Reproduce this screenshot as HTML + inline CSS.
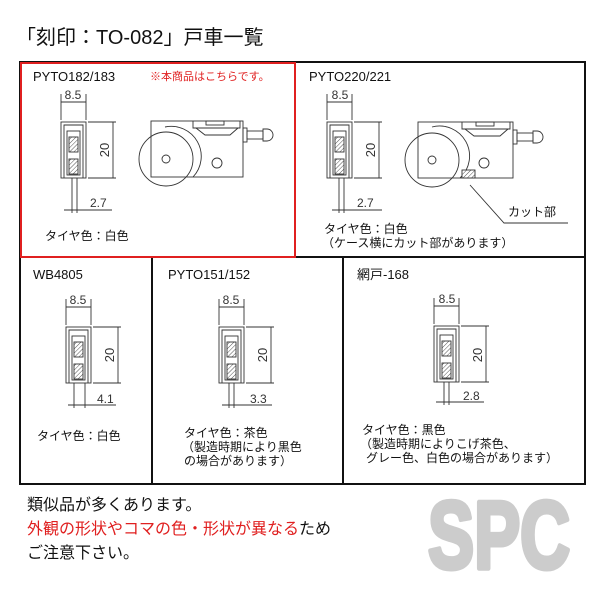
<!DOCTYPE html>
<html><head><meta charset="utf-8"><style>
html,body{margin:0;padding:0;background:#fff;}
svg{display:block;}
text{font-family:"Liberation Sans","Noto Sans CJK JP",sans-serif;}
</style></head><body>
<svg width="600" height="600" viewBox="0 0 600 600" xmlns="http://www.w3.org/2000/svg">
<defs>
<pattern id="h" width="3" height="3" patternUnits="userSpaceOnUse" patternTransform="rotate(45)">
<rect width="3" height="3" fill="#fff"/><line x1="0" y1="0" x2="0" y2="3" stroke="#555" stroke-width="1"/></pattern>
<g id="xs" fill="none" stroke="#333" stroke-width="0.9">
<line x1="0" y1="-28" x2="0" y2="-2"/><line x1="25" y1="-28" x2="25" y2="-2"/>
<line x1="0" y1="-20" x2="25" y2="-20"/>
<rect x="0" y="0" width="25" height="56"/>
<polyline points="3,56 3,3 22,3 22,56"/>
<rect x="6" y="9" width="13" height="44"/>
<rect x="8" y="15" width="9" height="15" fill="url(#h)"/>
<rect x="8" y="37" width="9" height="15" fill="url(#h)"/>
<line x1="27" y1="0" x2="55" y2="0"/><line x1="27" y1="56" x2="55" y2="56"/>
<line x1="52" y1="0" x2="52" y2="56"/>
</g>
</defs>

<text x="16" y="44" font-size="20" fill="#111">「刻印：TO-082」戸車一覧</text>

<g fill="none" stroke="#111" stroke-width="2">
<rect x="20" y="62" width="565" height="422"/>
<line x1="20" y1="257" x2="585" y2="257"/>
<line x1="152" y1="257" x2="152" y2="484"/>
<line x1="343" y1="257" x2="343" y2="484"/>
</g>
<rect x="21" y="63" width="274" height="194" fill="none" stroke="#e02020" stroke-width="2"/>

<text x="33" y="81" font-size="13" fill="#111">PYTO182/183</text>
<text x="150" y="80" font-size="11" fill="#e02020">※本商品はこちらです。</text>
<use href="#xs" x="61" y="122"/>
<text x="73" y="99" font-size="12" text-anchor="middle" fill="#333">8.5</text>
<text transform="translate(109,150) rotate(-90)" font-size="13" text-anchor="middle" fill="#333">20</text>
<g stroke="#333" stroke-width="0.9" fill="none">
<line x1="72" y1="178" x2="72" y2="213"/><line x1="77" y1="178" x2="77" y2="213"/>
<line x1="64" y1="210" x2="112" y2="210"/>
</g>
<text x="90" y="207" font-size="12" fill="#333">2.7</text>
<g stroke="#333" stroke-width="0.9" fill="none">
<rect x="151" y="121" width="92" height="56"/>
<polyline points="193,121 193,128 240,128 240,121"/>
<polyline points="196,128 205,135 230,135 238,128"/>
<rect x="206" y="121" width="18" height="4"/>
<circle cx="166" cy="159" r="27"/>
<circle cx="166" cy="159" r="4"/>
<circle cx="217" cy="163" r="5"/>
<path d="M165,127 A30,30 0 0 1 193,177"/>
<rect x="243" y="128" width="4" height="14"/>
<rect x="247" y="131" width="16" height="8"/>
<path d="M263,129 h4 a6,6 0 0 1 0,12 h-4 z"/>
</g>
<text x="45" y="240" font-size="12" fill="#111">タイヤ色：白色</text>

<text x="309" y="81" font-size="13" fill="#111">PYTO220/221</text>
<use href="#xs" x="327" y="122"/>
<text x="340" y="99" font-size="12" text-anchor="middle" fill="#333">8.5</text>
<text transform="translate(375,150) rotate(-90)" font-size="13" text-anchor="middle" fill="#333">20</text>
<g stroke="#333" stroke-width="0.9" fill="none">
<line x1="339" y1="178" x2="339" y2="213"/><line x1="344" y1="178" x2="344" y2="213"/>
<line x1="332" y1="210" x2="382" y2="210"/>
</g>
<text x="357" y="207" font-size="12" fill="#333">2.7</text>
<g stroke="#333" stroke-width="0.9" fill="none">
<rect x="418" y="122" width="95" height="56"/>
<polyline points="462,122 462,129 510,129 510,122"/>
<polyline points="465,129 474,136 500,136 508,129"/>
<rect x="476" y="122" width="18" height="4"/>
<circle cx="432" cy="160" r="27"/>
<circle cx="432" cy="160" r="4"/>
<circle cx="484" cy="163" r="5"/>
<path d="M432,127 A30,30 0 0 1 460,178"/>
<rect x="462" y="170" width="13" height="8" fill="url(#h)"/>
<rect x="513" y="130" width="4" height="14"/>
<rect x="517" y="133" width="16" height="8"/>
<path d="M533,131 h4 a6,6 0 0 1 0,12 h-4 z"/>
<polyline points="470,185 504,223 568,223"/>
</g>
<text x="508" y="216" font-size="12" fill="#111">カット部</text>
<text x="324" y="233" font-size="12" fill="#111">タイヤ色：白色</text>
<text x="322" y="247" font-size="12" fill="#111">（ケース横にカット部があります）</text>

<text x="33" y="279" font-size="13" fill="#111">WB4805</text>
<use href="#xs" x="66" y="327"/>
<text x="78" y="304" font-size="12" text-anchor="middle" fill="#333">8.5</text>
<text transform="translate(114,355) rotate(-90)" font-size="13" text-anchor="middle" fill="#333">20</text>
<g stroke="#333" stroke-width="0.9" fill="none">
<line x1="74" y1="383" x2="74" y2="408"/><line x1="85" y1="383" x2="85" y2="408"/>
<line x1="68" y1="405" x2="116" y2="405"/>
</g>
<text x="97" y="403" font-size="12" fill="#333">4.1</text>
<text x="37" y="440" font-size="12" fill="#111">タイヤ色：白色</text>

<text x="168" y="279" font-size="13" fill="#111">PYTO151/152</text>
<use href="#xs" x="219" y="327"/>
<text x="231" y="304" font-size="12" text-anchor="middle" fill="#333">8.5</text>
<text transform="translate(267,355) rotate(-90)" font-size="13" text-anchor="middle" fill="#333">20</text>
<g stroke="#333" stroke-width="0.9" fill="none">
<line x1="229" y1="383" x2="229" y2="408"/><line x1="234" y1="383" x2="234" y2="408"/>
<line x1="222" y1="405" x2="272" y2="405"/>
</g>
<text x="250" y="403" font-size="12" fill="#333">3.3</text>
<text x="184" y="437" font-size="12" fill="#111">タイヤ色：茶色</text>
<text x="182" y="451" font-size="12" fill="#111">（製造時期により黒色</text>
<text x="184" y="465" font-size="12" fill="#111">の場合があります）</text>

<text x="357" y="279" font-size="13" fill="#111">網戸-168</text>
<use href="#xs" x="434" y="326"/>
<text x="447" y="303" font-size="12" text-anchor="middle" fill="#333">8.5</text>
<text transform="translate(482,355) rotate(-90)" font-size="13" text-anchor="middle" fill="#333">20</text>
<g stroke="#333" stroke-width="0.9" fill="none">
<line x1="444" y1="382" x2="444" y2="405"/><line x1="449" y1="382" x2="449" y2="405"/>
<line x1="436" y1="402" x2="484" y2="402"/>
</g>
<text x="463" y="400" font-size="12" fill="#333">2.8</text>
<text x="362" y="434" font-size="12" fill="#111">タイヤ色：黒色</text>
<text x="360" y="448" font-size="12" fill="#111">（製造時期によりこげ茶色、</text>
<text x="366" y="462" font-size="12" fill="#111">グレー色、白色の場合があります）</text>

<text x="27" y="510" font-size="16" fill="#111">類似品が多くあります。</text>
<text x="27" y="534" font-size="16"><tspan fill="#e02020">外観の形状やコマの色・形状が異なる</tspan><tspan fill="#111">ため</tspan></text>
<text x="27" y="558" font-size="16" fill="#111">ご注意下さい。</text>
<text transform="translate(428,568) scale(0.72,1)" font-size="96" font-weight="bold" fill="#cccccc" stroke="#cccccc" stroke-width="5" stroke-linejoin="round" font-family="Liberation Sans, sans-serif">SPC</text>
</svg>
</body></html>
